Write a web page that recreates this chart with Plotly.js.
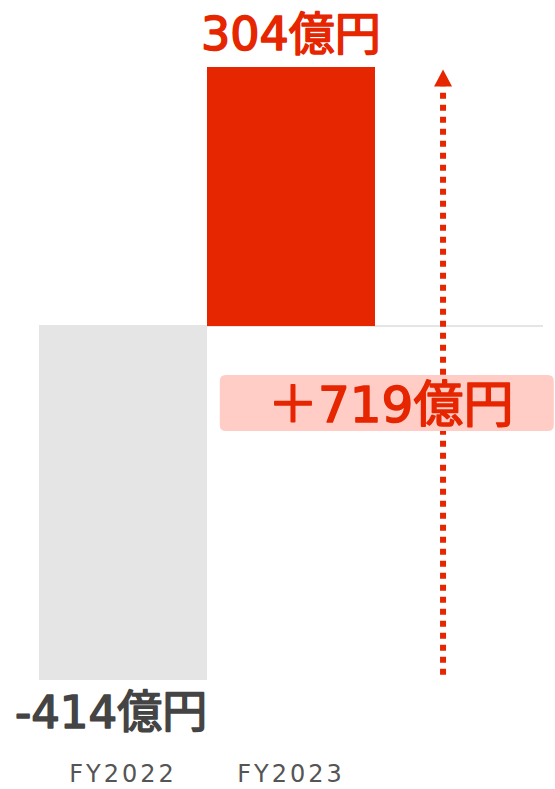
<!DOCTYPE html>
<html>
<head>
<meta charset="utf-8">
<script src="https://cdn.plot.ly/plotly-3.0.1.min.js"></script>
<style>
html,body{margin:0;padding:0;background:#fff;}
#chart{width:555px;height:789px;}
#chart .xtick text{letter-spacing:3px;}
</style>
</head>
<body>
<div id="chart"></div>
<script>
const categories = ['FY2022', 'FY2023'];
const values = [-414, 304];
const valueLabels = ['-414億円', '304億円'];
const diffLabel = '＋719億円';
const barColors = ['#e5e5e5', '#e62600'];

const RED = '#e62600';
const FONT = '"DejaVu Sans", "Noto Sans CJK JP", sans-serif';
const arrowX = 1.905;

const traces = [
  {
    type: 'bar',
    x: [0, 1],
    y: values,
    width: 1,
    marker: {color: barColors, line: {width: 0}},
    hoverinfo: 'skip',
    showlegend: false
  },
  {
    type: 'scatter',
    mode: 'lines',
    x: [arrowX, arrowX],
    y: [values[0] + 6, values[1] - 23],
    line: {color: RED, width: 6, dash: 'dot'},
    hoverinfo: 'skip',
    showlegend: false
  }
];

const layout = {
  width: 555,
  height: 789,
  margin: {l: 39, r: 12, t: 50, b: 89},
  paper_bgcolor: '#fff',
  plot_bgcolor: '#fff',
  showlegend: false,
  bargap: 0,
  xaxis: {
    range: [-0.5, 2.5],
    tickvals: [0, 1],
    ticktext: categories,
    showgrid: false,
    zeroline: false,
    showline: false,
    ticks: '',
    ticklabelstandoff: 57,
    tickfont: {family: FONT, size: 24, color: '#555'},
    fixedrange: true
  },
  yaxis: {
    range: [-437.6, 323.9],
    showgrid: false,
    showticklabels: false,
    ticks: '',
    zeroline: true,
    zerolinecolor: '#e5e5e5',
    zerolinewidth: 2,
    fixedrange: true
  },
  shapes: [
    {
      type: 'path',
      xref: 'x', yref: 'y',
      xsizemode: 'pixel', ysizemode: 'pixel',
      xanchor: arrowX, yanchor: values[1] - 23,
      path: 'M-9,0 L9,0 L0,17 Z',
      fillcolor: RED,
      line: {width: 0},
      layer: 'above'
    },
    {
      type: 'path',
      xref: 'paper', yref: 'paper',
      xsizemode: 'pixel', ysizemode: 'pixel',
      xanchor: 0.698, yanchor: 0.457,
      path: 'M-165,28 L157,28 Q163,28 163,22 L163,-22 Q163,-28 157,-28 L-165,-28 Q-171,-28 -171,-22 L-171,22 Q-171,28 -165,28 Z',
      fillcolor: '#ffcdc6',
      line: {width: 0},
      layer: 'above'
    }
  ],
  annotations: [
    {
      x: 1, y: values[1], xref: 'x', yref: 'y',
      text: valueLabels[1],
      showarrow: false,
      xanchor: 'center', yanchor: 'bottom',
      yshift: 4,
      font: {family: FONT, size: 46, color: RED}
    },
    {
      x: 0.5, y: values[0], xref: 'x', yref: 'y',
      text: valueLabels[0],
      showarrow: false,
      xanchor: 'right', yanchor: 'top',
      yshift: -4,
      xshift: 2,
      font: {family: FONT, size: 45, color: '#444'}
    },
    {
      x: 0.698, y: 0.457, xref: 'paper', yref: 'paper',
      text: diffLabel,
      showarrow: false,
      xanchor: 'center', yanchor: 'middle',
      yshift: -2,
      font: {family: FONT, size: 50, color: RED}
    }
  ]
};

Plotly.newPlot('chart', traces, layout, {displayModeBar: false, staticPlot: true}).then(function (gd) {
  gd.querySelectorAll('.annotation-text').forEach(function (t) {
    t.style.stroke = t.style.fill;
    t.style.strokeWidth = '1.6px';
    t.style.strokeLinejoin = 'round';
  });
});
</script>
</body>
</html>
